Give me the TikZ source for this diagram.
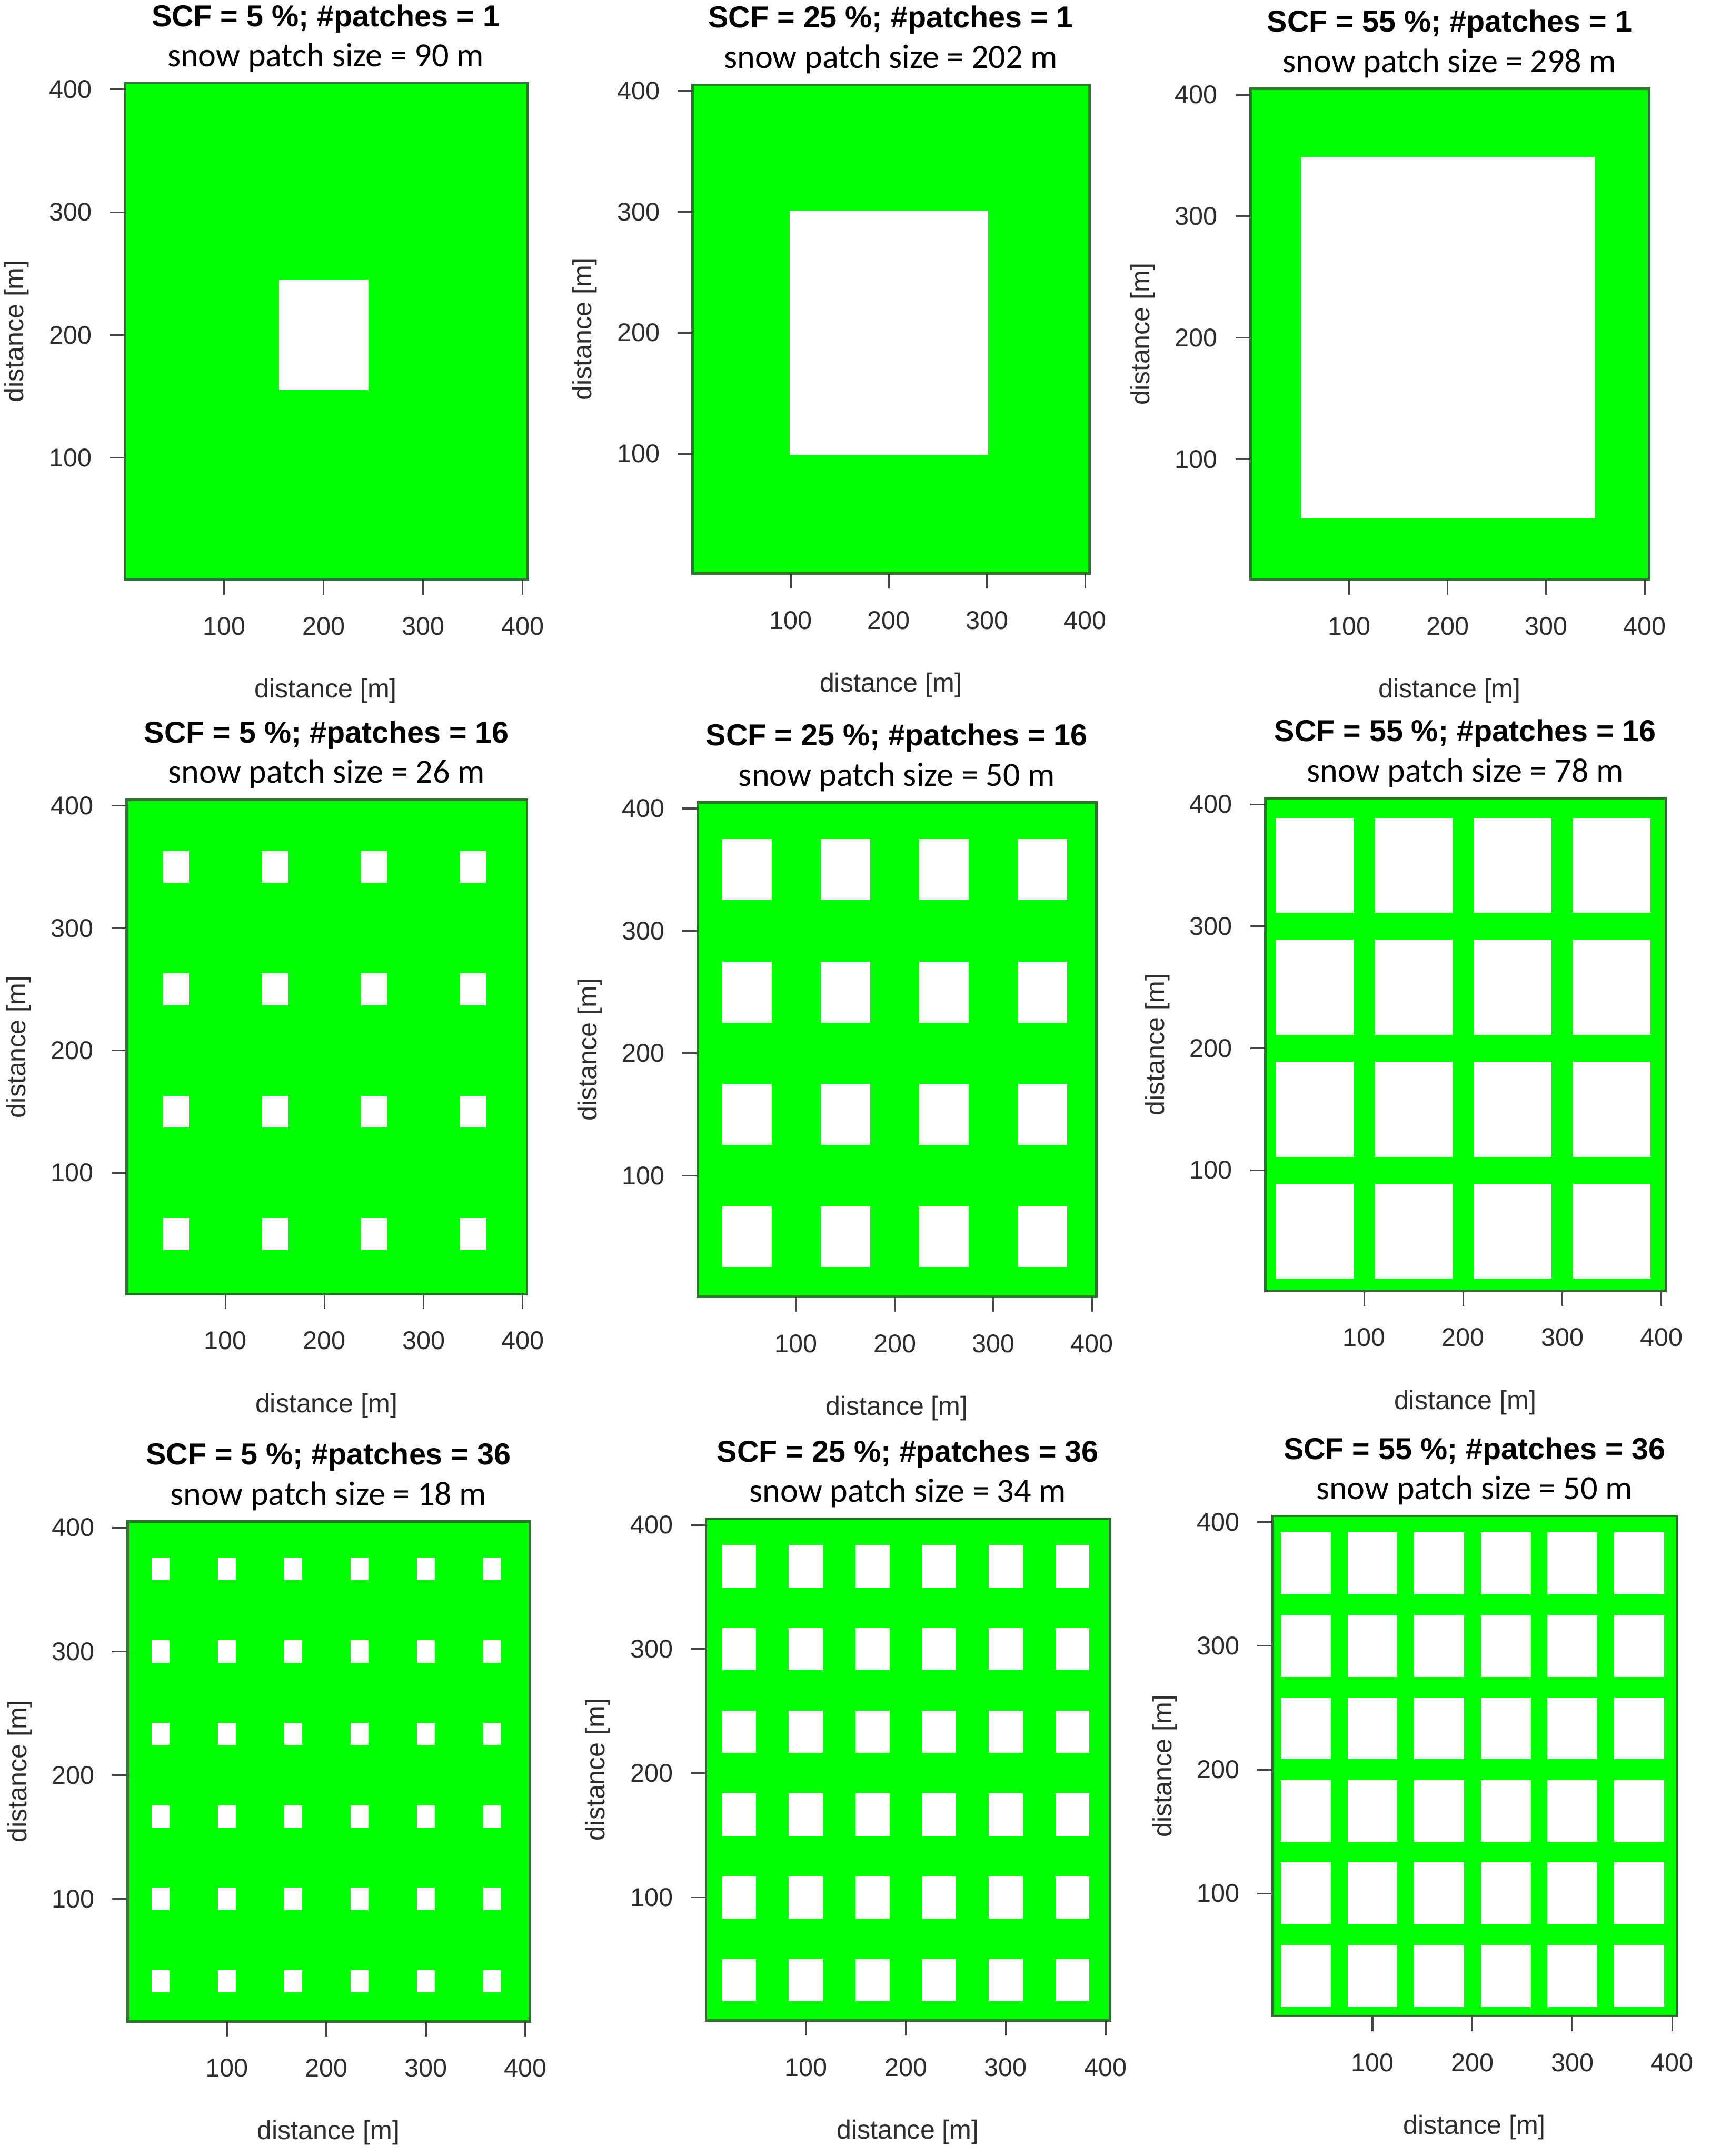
\documentclass[tikz,border=0pt]{standalone}
\usepackage{fontspec}
\setmainfont{Liberation Sans}
\newfontfamily\calib{Carlito}
\definecolor{grn}{RGB}{0,255,0}
\definecolor{bord}{RGB}{45,115,45}
\definecolor{tickc}{RGB}{70,70,70}
\definecolor{labc}{RGB}{45,45,45}
\tikzset{
  ticklab/.style={inner sep=0pt,text=labc,font=\fontsize{9.3}{11}\selectfont},
  axlab/.style={inner sep=0pt,text=labc,font=\fontsize{9.6}{11}\selectfont},
  ptitle/.style={inner sep=0pt,font=\fontsize{11}{13}\selectfont\bfseries},
  psub/.style={inner sep=0pt,font=\calib\fontsize{12.3}{14}\selectfont},
  tickline/.style={draw=tickc,line width=0.6pt},
  boxline/.style={draw=bord,line width=0.9pt}
}
% #1 name, #2 x0, #3 sx, #4 y0, #5 sy, #6 n per side, #7 patch size, #8 title, #9 subtitle
% all positions in reference pixels: X(d)=x0+sx*d, Y(d)=y0-sy*d
\newcommand{\snowpanel}[9]{%
  \pgfmathsetmacro{\bl}{#2}
  \pgfmathsetmacro{\br}{#2+#3*404.5}
  \pgfmathsetmacro{\bb}{#4-#5*1}
  \pgfmathsetmacro{\bt}{#4-#5*405}
  \pgfmathsetmacro{\bc}{#2+#3*202}
  \pgfmathsetmacro{\bm}{#4-#5*203}
  \fill[grn] (\bl,\bb) rectangle (\br,\bt);
  \pgfmathsetmacro{\cellw}{400/#6}
  \pgfmathsetmacro{\halfw}{#7/2}
  \pgfmathtruncatemacro{\nmax}{#6-1}
  \foreach \i in {0,...,\nmax}{%
    \foreach \j in {0,...,\nmax}{%
      \pgfmathsetmacro{\pa}{#2+#3*((\i+0.5)*\cellw-\halfw)}
      \pgfmathsetmacro{\pb}{#2+#3*((\i+0.5)*\cellw+\halfw)}
      \pgfmathsetmacro{\pc}{#4-#5*((\j+0.5)*\cellw-\halfw)}
      \pgfmathsetmacro{\pd}{#4-#5*((\j+0.5)*\cellw+\halfw)}
      \fill[white] (\pa,\pc) rectangle (\pb,\pd);
    }%
  }
  \draw[boxline] (\bl,\bb) rectangle (\br,\bt);
  \foreach \v in {100,200,300,400}{%
    \pgfmathsetmacro{\tx}{#2+#3*\v}
    \pgfmathsetmacro{\ty}{#4-#5*\v}
    \draw[tickline] (\tx,\bb) -- (\tx,\bb+11);
    \node[ticklab] (#1x\v) at (\tx,\bb+34) {\v};
    \draw[tickline] (\bl,\ty) -- (\bl-11,\ty);
    \node[ticklab,anchor=east] (#1y\v) at (\bl-23.5,\ty) {\v};
  }
  \node[axlab] (#1xl) at (\bc,\bb+81) {distance [m]};
  \node[axlab,rotate=90] (#1yl) at (\bl-78.5,\bm) {distance [m]};
  \node[ptitle] (#1t) at (\bc,\bt-47) {#8};
  \node[psub] (#1s) at (\bc,\bt-18.5) {#9};
}
\begin{document}
\begin{tikzpicture}[x=0.5pt,y=-0.5pt]
\useasboundingbox (0,0) rectangle (1244,1568);
\fill[white] (0,0) rectangle (1244,1568);
\snowpanel{a}{90.7}{0.7233}{422.3}{0.8933}{1}{90}{SCF = 5 \%; \#patches = 1}{snow patch size = 90 m}
\snowpanel{b}{503.7}{0.7133}{418}{0.88}{1}{202}{SCF = 25 \%; \#patches = 1}{snow patch size = 202 m}
\snowpanel{c}{909.3}{0.7167}{422.3}{0.8833}{1}{298}{SCF = 55 \%; \#patches = 1}{snow patch size = 298 m}
\snowpanel{d}{92}{0.72}{942}{0.89}{4}{26}{SCF = 5 \%; \#patches = 16}{snow patch size = 26 m}
\snowpanel{e}{507.3}{0.7167}{944}{0.89}{4}{50}{SCF = 25 \%; \#patches = 16}{snow patch size = 50 m}
\snowpanel{f}{920}{0.72}{939.7}{0.8867}{4}{78}{SCF = 55 \%; \#patches = 16}{snow patch size = 78 m}
\snowpanel{g}{92.7}{0.7233}{1471}{0.9}{6}{18}{SCF = 5 \%; \#patches = 36}{snow patch size = 18 m}
\snowpanel{h}{513.3}{0.7267}{1470.3}{0.9033}{6}{34}{SCF = 25 \%; \#patches = 36}{snow patch size = 34 m}
\snowpanel{i}{925.3}{0.7267}{1467}{0.9}{6}{50}{SCF = 55 \%; \#patches = 36}{snow patch size = 50 m}
\end{tikzpicture}
\end{document}
